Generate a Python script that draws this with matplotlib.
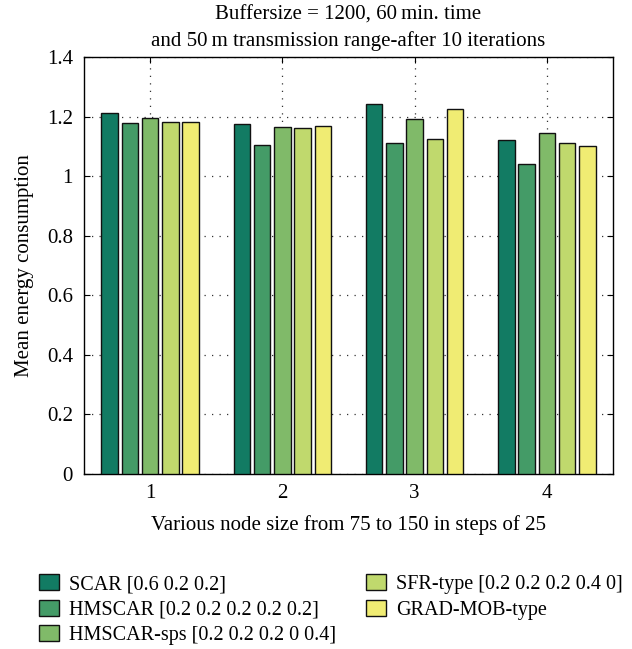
import matplotlib
matplotlib.use("Agg")
import matplotlib.pyplot as plt
import numpy as np

plt.rcParams['font.family'] = ['Liberation Serif', 'DejaVu Serif']

groups = [1, 2, 3, 4]
series_names = [
    "SCAR [0.6 0.2 0.2]",
    "HMSCAR [0.2 0.2 0.2 0.2 0.2]",
    "HMSCAR-sps [0.2 0.2 0.2 0 0.4]",
    "SFR-type [0.2 0.2 0.2 0.4 0]",
    "GRAD-MOB-type",
]
scar = [1.211, 1.176, 1.242, 1.121]
hmscar = [1.177, 1.105, 1.110, 1.042]
hmscar_sps = [1.194, 1.166, 1.191, 1.145]
sfr_type = [1.181, 1.162, 1.124, 1.110]
grad_mob = [1.183, 1.167, 1.226, 1.102]
series_values = [scar, hmscar, hmscar_sps, sfr_type, grad_mob]
colors = ["#127B63", "#449B67", "#80BA69", "#C0D96D", "#F0EC73"]
yticks = [0, 0.2, 0.4, 0.6, 0.8, 1.0, 1.2, 1.4]
ytick_labels = ["0", "0.2", "0.4", "0.6", "0.8", "1", "1.2", "1.4"]

fig = plt.figure(figsize=(6.32, 6.49), dpi=100)
ax = fig.add_axes([84 / 632, 1 - 474 / 649, 529 / 632, 417 / 649])

x = np.array(groups, dtype=float)
step = 0.153
width = 0.125
handles = []
for i, (name, vals, c) in enumerate(zip(series_names, series_values, colors)):
    h = ax.bar(x + (i - 2) * step, vals, width=width, color=c,
               edgecolor="#111111", linewidth=1.0, label=name, zorder=3)
    handles.append(h)

ax.set_xlim(0.5, 4.5)
ax.set_ylim(0, 1.4)
ax.set_xticks(groups)
ax.set_xticklabels([str(g) for g in groups])
ax.set_yticks(yticks)
ax.set_yticklabels(ytick_labels)
ax.tick_params(direction="in", top=True, right=True, length=4,
               labelsize=15, width=0.8)
ax.tick_params(axis="x", pad=7)
ax.tick_params(axis="y", pad=8)
ax.grid(True, linestyle=(0, (1, 5)), color="#333333", linewidth=0.9, zorder=0)
for s in ax.spines.values():
    s.set_linewidth(1.0)

ax.set_xlabel("Various node size from 75 to 150 in steps of 25",
              fontsize=15, labelpad=9)
ax.set_ylabel("Mean energy consumption", fontsize=15, labelpad=9)
ax.set_title("Buffersize = 1200, 60\u2009min. time\nand 50\u2009m transmission range-after 10 iterations",
             fontsize=15, linespacing=1.45, pad=8)

fig.legend(handles=handles, labels=series_names, ncol=2,
           loc="upper left", bbox_to_anchor=(31 / 632, 1 - 566 / 649),
           frameon=False, fontsize=14.5, handlelength=1.0, handleheight=0.85,
           labelspacing=0.28, columnspacing=1.45, handletextpad=0.5,
           borderaxespad=0)

fig.savefig("out.png", dpi=100)
